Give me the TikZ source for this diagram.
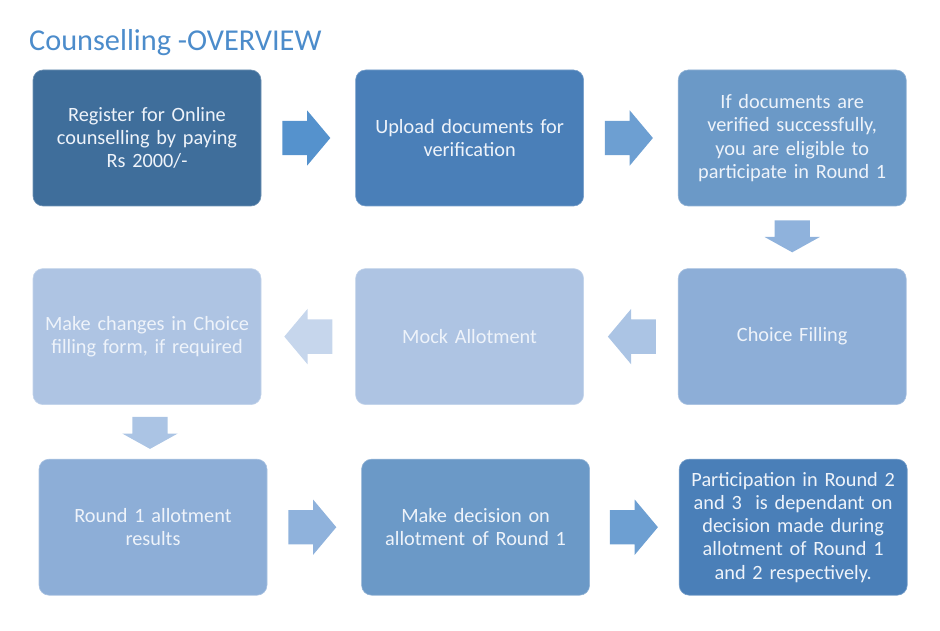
\documentclass[tikz,border=0pt]{standalone}
\usepackage{fontspec}
\setmainfont{Carlito}
\usepackage{tikz}
\usetikzlibrary{positioning}
\usetikzlibrary{shapes.arrows}
\usepackage{xcolor}

\definecolor{titleblue}{HTML}{4C8CCB}
\definecolor{boxtext}{HTML}{EEF3FA}
\definecolor{boxA}{HTML}{3F6E9B}
\definecolor{boxB}{HTML}{4A7FB8}
\definecolor{boxC}{HTML}{6B99C7}
\definecolor{boxD}{HTML}{8DAED7}
\definecolor{boxE}{HTML}{AEC4E3}
\definecolor{arrA}{HTML}{5592CD}
\definecolor{arrB}{HTML}{6D9FD2}
\definecolor{arrC}{HTML}{8FB2DC}
\definecolor{arrD}{HTML}{ABC4E4}
\definecolor{arrE}{HTML}{C6D6EC}

\tikzset{
  stepbox/.style={rectangle, rounded corners=10pt, fill=#1, draw=#1!75!white,
    line width=0.6pt, minimum width=228pt, minimum height=136pt,
    text width=220pt, align=center, text=boxtext,
    font=\fontsize{20.3}{23.3}\selectfont},
  harrow/.style={single arrow, fill=#1, inner xsep=0pt, inner ysep=17pt,
    outer sep=0pt, minimum height=48pt, single arrow head extend=10.5pt,
    single arrow tip angle=100},
  varrow/.style={single arrow, fill=#1, inner xsep=17.5pt, inner ysep=0pt,
    outer sep=0pt, minimum height=32pt, single arrow head extend=10pt,
    single arrow tip angle=122, shape border rotate=270}
}

\begin{document}
\begin{tikzpicture}[x=1pt, y=-1pt]
  \useasboundingbox (0,0) rectangle (940,631);
  \node (title) [anchor=base west, text=titleblue, inner sep=0pt,
    font=\fontsize{30.3}{34}\selectfont] at (29,51) {Counselling -OVERVIEW};

  % first row
  \node (b1) [stepbox=boxA] at (147,138) {Register for Online\\counselling by paying\\Rs 2000/-};
  \node (b2) [stepbox=boxB, right=94pt of b1] {Upload documents for\\verification};
  \node (b3) [stepbox=boxC, right=94pt of b2] {If documents are\\verified successfully,\\you are eligible to\\participate in Round 1};

  % second row
  \node (b4) [stepbox=boxD, below=62pt of b3] {Choice Filling};
  \node (b5) [stepbox=boxE, left=94pt of b4] {Mock Allotment};
  \node (b6) [stepbox=boxE, left=94pt of b5] {Make changes in Choice\\filling form, if required};

  % third row
  \node (b7) [stepbox=boxD, below=54pt of b6, xshift=6pt] {Round 1 allotment\\results};
  \node (b8) [stepbox=boxC, right=94pt of b7] {Make decision on\\allotment of Round 1};
  \node (b9) [stepbox=boxB, right=89pt of b8] {Participation in Round 2\\and 3~ is dependant on\\decision made during\\allotment of Round 1\\and 2 respectively.};

  % block arrows
  \node (a12) [harrow=arrA, right=21pt of b1] {};
  \node (a23) [harrow=arrB, right=21pt of b2] {};
  \node (a34) [varrow=arrC, below=14pt of b3] {};
  \node (a45) [harrow=arrD, shape border rotate=180, left=22pt of b4] {};
  \node (a56) [harrow=arrE, shape border rotate=180, left=23pt of b5] {};
  \node (a67) [varrow=arrD, below=12pt of b6, xshift=3pt] {};
  \node (a78) [harrow=arrC, right=21pt of b7] {};
  \node (a89) [harrow=arrB, right=20pt of b8] {};
\end{tikzpicture}
\end{document}
